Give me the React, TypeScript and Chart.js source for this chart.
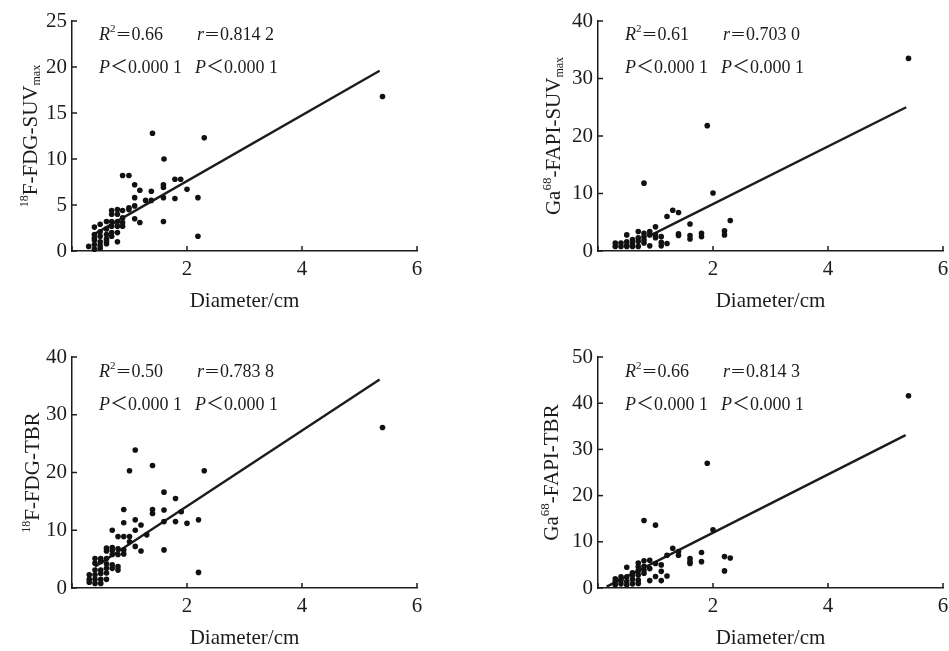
import React, { useEffect, useRef } from 'react';
import { Chart, registerables } from 'chart.js';

Chart.register(...registerables);

const SERIF = '"Liberation Serif", "Times New Roman", serif';
const CJK = '"Liberation Serif", "Noto Sans CJK SC", serif';
const INK = '#1c1c1c';

// ---------- data ----------
const X_TITLE = 'Diameter/cm';
const X_TICKS = [0, 2, 4, 6];

// Panel A: 18F-FDG-SUVmax
const fdgSuvX = [1.4, 2.3, 1.6, 0.88, 0.99, 1.09, 1.79, 1.89, 1.59, 1.59, 2.0, 1.18, 1.38, 1.09, 1.28, 1.38, 1.59, 1.79, 2.19, 0.99, 0.99, 1.09, 0.88, 0.69, 0.79, 0.79, 0.69, 1.09, 1.18, 1.59, 2.19, 0.88, 0.88, 0.79, 0.69, 0.6, 0.49, 0.39, 0.69, 0.88, 0.79, 0.6, 0.69, 0.79, 0.49, 0.39, 0.49, 0.6, 0.69, 0.79, 0.6, 0.39, 0.49, 0.29, 0.39, 0.39, 0.49, 0.49, 0.6, 0.6, 0.39, 5.4];
const fdgSuvY = [12.8, 12.3, 10.0, 8.2, 8.2, 7.2, 7.8, 7.8, 7.2, 6.9, 6.7, 6.6, 6.5, 5.8, 5.5, 5.5, 5.8, 5.7, 5.8, 4.7, 4.5, 4.9, 4.4, 4.4, 4.5, 4.0, 4.0, 3.5, 3.1, 3.2, 1.6, 3.6, 3.1, 3.2, 3.2, 3.2, 2.9, 2.6, 2.7, 2.7, 2.7, 2.4, 2.0, 2.0, 2.1, 1.8, 1.6, 1.8, 1.6, 1.0, 1.3, 1.2, 1.0, 0.5, 0.7, 0.2, 0.6, 0.3, 0.8, 1.1, 1.4, 16.8];
const fdgSuvFitX = [0.35, 5.35];
const fdgSuvFitY = [1.7, 19.6];

// Panel B: Ga68-FAPI-SUVmax
const fapiSuvX = [1.9, 0.8, 2.0, 1.3, 1.4, 1.2, 2.3, 1.6, 1.4, 1.4, 1.6, 1.6, 1.8, 1.8, 2.2, 2.2, 1.0, 0.9, 0.7, 0.5, 0.8, 0.9, 0.8, 1.0, 1.0, 1.1, 1.2, 1.1, 1.1, 0.9, 0.7, 0.7, 0.6, 0.6, 0.8, 0.8, 0.5, 0.5, 0.4, 0.4, 0.3, 0.3, 0.6, 0.7, 0.5, 5.4];
const fapiSuvY = [21.8, 11.8, 10.1, 7.1, 6.7, 6.0, 5.3, 4.7, 3.0, 2.7, 2.7, 2.1, 3.1, 2.5, 3.5, 2.8, 4.2, 3.4, 3.4, 2.8, 3.1, 2.8, 2.5, 2.8, 2.3, 2.5, 1.3, 0.9, 1.5, 0.9, 2.3, 1.7, 2.0, 1.4, 1.9, 1.4, 1.6, 1.0, 1.4, 0.8, 1.4, 0.8, 0.8, 0.8, 0.8, 33.5];
const fapiSuvFitX = [0.93, 5.36];
const fapiSuvFitY = [2.8, 25.0];

// Panel C: 18F-FDG-TBR
const fdgTbrX = [1.1, 1.0, 1.4, 2.3, 1.6, 1.8, 0.9, 1.4, 1.4, 1.6, 1.9, 1.1, 1.2, 0.9, 1.6, 1.8, 2.0, 2.2, 0.7, 1.1, 1.3, 0.8, 0.9, 1.0, 1.0, 1.1, 1.2, 1.6, 2.2, 0.6, 0.7, 0.6, 0.7, 0.8, 0.9, 0.9, 0.8, 0.7, 0.5, 0.4, 0.6, 0.4, 0.5, 0.6, 0.7, 0.8, 0.8, 0.7, 0.6, 0.5, 0.4, 0.6, 0.5, 0.3, 0.4, 0.3, 0.4, 0.5, 0.3, 0.4, 0.5, 0.6, 5.4];
const fdgTbrY = [23.9, 20.3, 21.2, 20.3, 16.6, 15.5, 13.6, 13.6, 12.9, 13.5, 13.2, 11.8, 10.9, 11.3, 11.5, 11.5, 11.2, 11.8, 10.0, 10.0, 9.2, 8.9, 8.9, 8.9, 8.0, 7.2, 6.4, 6.6, 2.7, 6.9, 7.0, 6.4, 6.5, 6.8, 6.6, 5.9, 5.8, 5.8, 5.1, 5.1, 5.1, 4.3, 4.6, 4.2, 4.0, 3.7, 3.1, 3.4, 3.4, 3.1, 3.1, 2.6, 2.5, 2.3, 2.3, 1.5, 1.5, 1.5, 1.0, 0.8, 0.8, 1.5, 27.8];
const fdgTbrFitX = [0.4, 5.35];
const fdgTbrFitY = [3.7, 36.1];

// Panel D: Ga68-FAPI-TBR
const fapiTbrX = [1.9, 0.8, 1.0, 2.0, 1.3, 1.4, 1.4, 1.2, 1.8, 1.8, 1.6, 1.6, 1.6, 2.2, 2.3, 2.2, 1.0, 0.9, 1.1, 1.2, 1.1, 1.1, 1.0, 0.9, 0.8, 0.7, 0.7, 0.8, 0.9, 0.8, 0.7, 0.6, 0.5, 0.6, 0.7, 0.5, 0.6, 0.4, 0.4, 0.3, 0.3, 0.5, 0.7, 0.4, 0.3, 0.5, 0.6, 0.7, 0.8, 5.4];
const fapiTbrY = [27.0, 14.6, 13.6, 12.6, 8.6, 7.9, 7.1, 7.1, 7.7, 5.7, 6.4, 5.7, 5.3, 6.8, 6.5, 3.7, 2.5, 1.6, 1.6, 2.6, 3.6, 5.0, 5.3, 6.0, 5.9, 5.4, 4.6, 4.7, 4.2, 3.9, 3.7, 3.3, 4.5, 2.8, 2.8, 2.4, 1.9, 2.4, 1.7, 2.0, 1.4, 1.4, 1.7, 0.9, 0.7, 0.7, 0.9, 1.0, 3.2, 41.6];
const fapiTbrFitX = [0.15, 5.35];
const fapiTbrFitY = [0.3, 33.1];

const Y_MAX = [25, 40, 40, 50];
const Y_STEP = [5, 10, 10, 10];
const R2_TEXT = ['0.66', '0.61', '0.50', '0.66'];
const R_TEXT = ['0.814 2', '0.703 0', '0.783 8', '0.814 3'];
const P_TEXT = '0.000 1';

type Seg = { t: string; s: number; dy?: number; italic?: boolean; cjk?: boolean };

const Y_TITLES: Seg[][] = [
  [{ t: '18', s: 12, dy: -9 }, { t: 'F-FDG-SUV', s: 21 }, { t: 'max', s: 12, dy: 3 }],
  [{ t: 'Ga', s: 21 }, { t: '68', s: 13, dy: -9 }, { t: '-FAPI-SUV', s: 21 }, { t: 'max', s: 12, dy: 3 }],
  [{ t: '18', s: 12, dy: -9 }, { t: 'F-FDG-TBR', s: 21 }],
  [{ t: 'Ga', s: 21 }, { t: '68', s: 13, dy: -9 }, { t: '-FAPI-TBR', s: 21 }],
];

const SERIES = [
  { xs: fdgSuvX, ys: fdgSuvY, fx: fdgSuvFitX, fy: fdgSuvFitY },
  { xs: fapiSuvX, ys: fapiSuvY, fx: fapiSuvFitX, fy: fapiSuvFitY },
  { xs: fdgTbrX, ys: fdgTbrY, fx: fdgTbrFitX, fy: fdgTbrFitY },
  { xs: fapiTbrX, ys: fapiTbrY, fx: fapiTbrFitX, fy: fapiTbrFitY },
];

// ---------- layout ----------
const LAYOUT = [
  { left: 0, top: 0, w: 470, h: 320, ca: { l: 72, r: 417, t: 21, b: 251 }, yTitleOff: 35, annTop: 19 },
  { left: 470, top: 0, w: 479, h: 320, ca: { l: 128, r: 473, t: 21, b: 251 }, yTitleOff: 38, annTop: 19 },
  { left: 0, top: 320, w: 470, h: 331, ca: { l: 72, r: 417, t: 37, b: 268 }, yTitleOff: 33, annTop: 20 },
  { left: 470, top: 320, w: 479, h: 331, ca: { l: 128, r: 473, t: 37, b: 268 }, yTitleOff: 40, annTop: 20 },
];

function fontOf(seg: Seg) {
  return `${seg.italic ? 'italic ' : ''}${seg.s}px ${seg.cjk ? CJK : SERIF}`;
}

function widthOf(ctx: CanvasRenderingContext2D, segs: Seg[]) {
  let w = 0;
  segs.forEach((sg) => {
    ctx.font = fontOf(sg);
    w += ctx.measureText(sg.t).width;
  });
  return w;
}

function drawSegs(ctx: CanvasRenderingContext2D, x: number, y: number, segs: Seg[]) {
  let cx = x;
  segs.forEach((sg) => {
    ctx.font = fontOf(sg);
    ctx.fillText(sg.t, cx, y + (sg.dy || 0));
    cx += ctx.measureText(sg.t).width;
  });
}

function Panel({ idx }: { idx: number }) {
  const ref = useRef<HTMLCanvasElement | null>(null);
  const L = LAYOUT[idx];
  useEffect(() => {
    if (!ref.current) return;
    const S = SERIES[idx];
    const pts = S.xs.map((x, i) => ({ x, y: S.ys[i] }));
    const fit = S.fx.map((x, i) => ({ x, y: S.fy[i] }));
    const textPlugin = {
      id: 'panelText' + idx,
      afterDraw(chart: any) {
        const { ctx, chartArea: ca, scales } = chart;
        const xs = scales.x;
        const ys = scales.y;
        ctx.save();
        ctx.fillStyle = INK;
        ctx.strokeStyle = INK;
        ctx.lineWidth = 1.5;
        xs.ticks.forEach((t: any) => {
          const px = xs.getPixelForValue(t.value);
          ctx.beginPath();
          ctx.moveTo(px, ca.bottom);
          ctx.lineTo(px, ca.bottom - 5);
          ctx.stroke();
        });
        ys.ticks.forEach((t: any) => {
          const py = ys.getPixelForValue(t.value);
          ctx.beginPath();
          ctx.moveTo(ca.left, py);
          ctx.lineTo(ca.left + 5, py);
          ctx.stroke();
        });
        // x title
        ctx.font = `21px ${SERIF}`;
        ctx.textAlign = 'center';
        ctx.textBaseline = 'middle';
        ctx.fillText(X_TITLE, (ca.left + ca.right) / 2, ca.bottom + 50);
        // y title
        ctx.textAlign = 'left';
        ctx.textBaseline = 'alphabetic';
        const segs = Y_TITLES[idx];
        const tw = widthOf(ctx, segs);
        ctx.save();
        ctx.translate(ca.left - L.yTitleOff, (ca.top + ca.bottom) / 2);
        ctx.rotate(-Math.PI / 2);
        drawSegs(ctx, -tw / 2, 0, segs);
        ctx.restore();
        // annotations
        const y1 = ca.top + L.annTop;
        const y2 = y1 + 33;
        drawSegs(ctx, ca.left + 27, y1, [
          { t: 'R', s: 18, italic: true },
          { t: '2', s: 11, dy: -8 },
          { t: '＝', s: 16, cjk: true },
          { t: R2_TEXT[idx], s: 18 },
        ]);
        drawSegs(ctx, ca.left + 125, y1, [
          { t: 'r', s: 18, italic: true },
          { t: '＝', s: 16, cjk: true },
          { t: R_TEXT[idx], s: 18 },
        ]);
        const pSegs: Seg[] = [
          { t: 'P', s: 18, italic: true },
          { t: '＜', s: 18, cjk: true },
          { t: P_TEXT, s: 18 },
        ];
        drawSegs(ctx, ca.left + 27, y2, pSegs);
        drawSegs(ctx, ca.left + 123, y2, pSegs);
        ctx.restore();
      },
    };
    const tickFont = { size: 21, family: SERIF };
    const chart = new Chart(ref.current, {
      type: 'scatter',
      data: {
        datasets: [
          {
            type: 'scatter',
            data: pts,
            pointRadius: 2.8,
            pointBackgroundColor: '#111',
            pointBorderWidth: 0,
            clip: false,
          } as any,
          {
            type: 'line',
            data: fit,
            borderColor: INK,
            borderWidth: 2.4,
            pointRadius: 0,
            showLine: true,
            fill: false,
            clip: false,
          } as any,
        ],
      },
      options: {
        animation: false,
        responsive: false,
        maintainAspectRatio: false,
        events: [],
        layout: { padding: { left: 0, top: L.ca.t, right: L.w - L.ca.r, bottom: 0 } },
        plugins: { legend: { display: false }, tooltip: { enabled: false } },
        scales: {
          x: {
            type: 'linear',
            min: 0,
            max: 6,
            afterBuildTicks: (s: any) => {
              s.ticks = X_TICKS.map((v) => ({ value: v }));
            },
            ticks: {
              callback: (v: any) => (v === 0 ? '' : String(v)),
              font: tickFont,
              color: INK,
              padding: 6,
              maxRotation: 0,
              autoSkip: false,
            },
            grid: { display: false, drawTicks: false },
            border: { display: true, color: INK, width: 1.5 },
            afterFit: (s: any) => {
              s.height = L.h - L.ca.b;
              s.paddingLeft = 0;
              s.paddingRight = 0;
            },
          },
          y: {
            type: 'linear',
            min: 0,
            max: Y_MAX[idx],
            ticks: { stepSize: Y_STEP[idx], font: tickFont, color: INK, padding: 5 },
            grid: { display: false, drawTicks: false },
            border: { display: true, color: INK, width: 1.5 },
            afterFit: (s: any) => {
              s.width = L.ca.l;
              s.paddingTop = 0;
              s.paddingBottom = 0;
            },
          },
        },
      } as any,
      plugins: [textPlugin],
    });
    return () => chart.destroy();
  }, [idx]);
  return (
    <div style={{ position: 'absolute', left: L.left, top: L.top, width: L.w, height: L.h }}>
      <canvas ref={ref} width={L.w} height={L.h} style={{ width: L.w, height: L.h, display: 'block' }} />
    </div>
  );
}

export default function App() {
  return (
    <div style={{ position: 'absolute', left: 0, top: 0, width: 949, height: 651, background: '#fff', overflow: 'hidden' }}>
      {[0, 1, 2, 3].map((i) => (
        <Panel key={i} idx={i} />
      ))}
    </div>
  );
}
